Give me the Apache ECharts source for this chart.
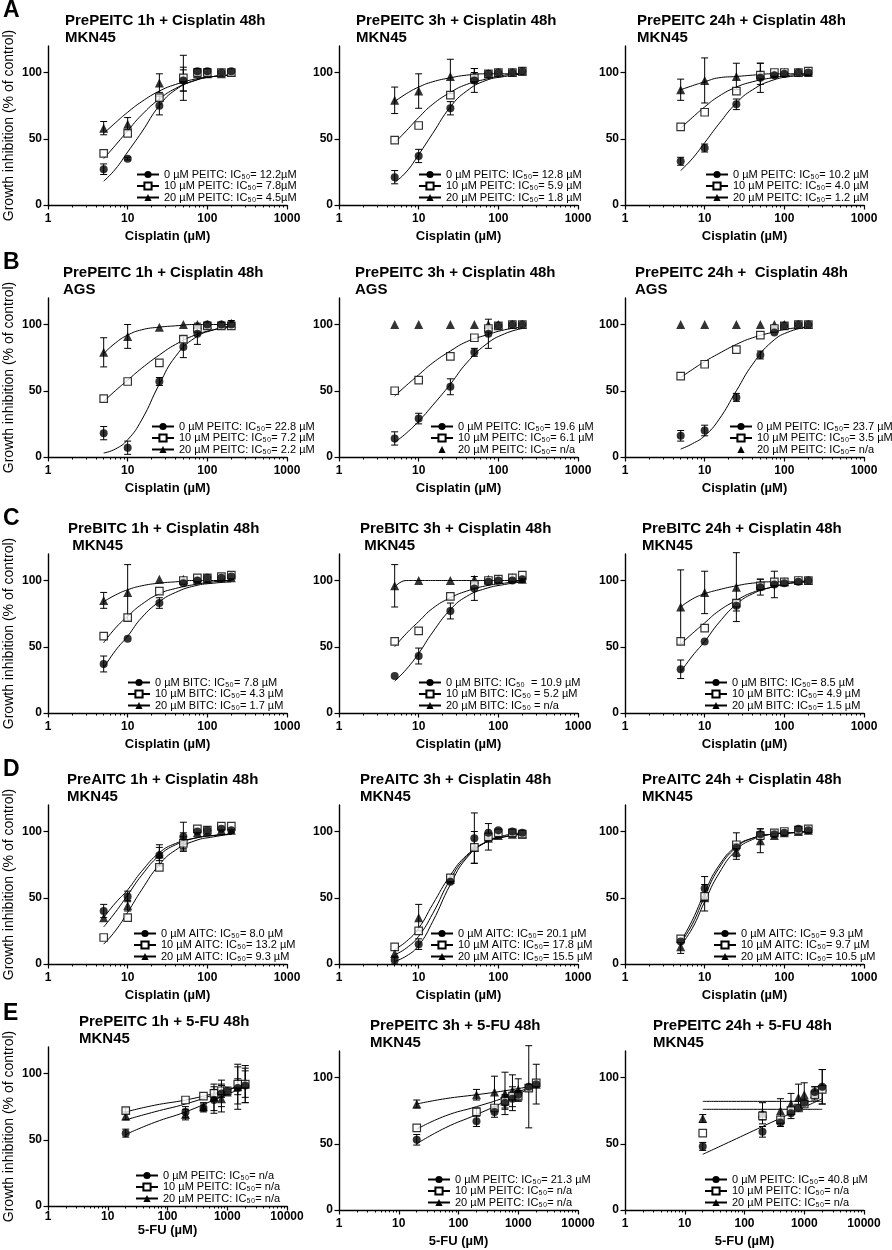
<!DOCTYPE html>
<html>
<head>
<meta charset="utf-8">
<title>Growth inhibition</title>
<script src="https://cdn.jsdelivr.net/npm/echarts@6.0.0/dist/echarts.min.js"></script>
<style>
  html, body { margin: 0; padding: 0; background: #fff; }
  #main { width: 892px; height: 1250px; }
</style>
</head>
<body>
<div id="main"></div>
<script>
// ---- doses (uM) ----
var cisDose = [5, 10, 25, 50, 75, 100, 150, 200];
var fuDose = [20, 200, 400, 600, 800, 1000, 1500, 2000];
var cisFitX = [5, 7, 10, 15, 25, 40, 70, 120, 200];
var fuFitX = [20, 60, 200, 600, 2000];
var yTicks = [0, 50, 100];

// each *_mean / *_sd / *_fit holds 3 rows: 0 uM, 10 uM, 20 uM pre-treatment
// A: PrePEITC + Cisplatin, MKN45
var A1_mean = [[27, 35, 75, 94, 101, 101, 100, 101], [39, 54, 81, 96, 100, 100, 100, 100], [58, 61, 92, 95, 99, 99, 99, 100]];
var A1_sd = [[4, 1, 7, 8, 2, 2, 0, 0], [0, 0, 2, 17, 0, 0, 0, 0], [5, 5, 7, 9, 0, 0, 0, 0]];
var A1_fit = [[18, 27, 40, 55, 75, 87, 94, 97, 98], [35, 45, 56, 68, 80, 88, 94, 97, 98], [54, 62, 70, 78, 86, 91, 95, 97, 98]];
var A2_mean = [[21, 37, 73, 94, 99, 100, 100, 101], [49, 60, 83, 96, 99, 100, 100, 101], [79, 86, 97, 98, 99, 100, 100, 101]];
var A2_sd = [[5, 5, 5, 9, 0, 0, 0, 0], [0, 0, 0, 4, 0, 0, 0, 0], [10, 13, 13, 5, 0, 0, 0, 0]];
var A2_fit = [[17, 25, 38, 54, 74, 86, 94, 97, 99], [47, 56, 66, 76, 85, 91, 95, 98, 99], [78, 84, 89, 93, 96, 98, 99, 99, 99]];
var A3_mean = [[33, 43, 76, 96, 98, 99, 100, 100], [59, 70, 86, 98, 100, 100, 100, 101], [87, 94, 97, 99, 99, 100, 100, 100]];
var A3_sd = [[3, 3, 4, 11, 0, 0, 0, 0], [0, 0, 0, 0, 0, 0, 0, 0], [8, 17, 10, 8, 0, 0, 0, 0]];
var A3_fit = [[26, 35, 47, 61, 77, 87, 94, 97, 98], [58, 66, 74, 82, 89, 93, 96, 98, 99], [87, 90, 93, 96, 97, 98, 99, 99, 99]];

// B: PrePEITC + Cisplatin, AGS
var B1_mean = [[18, 7, 57, 83, 93, 100, 100, 100], [44, 57, 71, 89, 97, 99, 99, 99], [79, 91, 98, 100, 100, 100, 100, 101]];
var B1_sd = [[5, 5, 3, 8, 8, 0, 0, 0], [0, 0, 0, 0, 0, 0, 0, 0], [11, 9, 0, 0, 0, 0, 0, 2]];
var B1_fit = [[3, 6, 13, 28, 55, 76, 90, 96, 99], [42, 50, 58, 67, 77, 85, 92, 96, 98], [78, 86, 92, 96, 98, 99, 100, 100, 100]];
var B2_mean = [[14, 29, 53, 79, 93, 99, 100, 100], [50, 58, 76, 90, 97, 99, 100, 100], [100, 100, 100, 100, 100, 100, 100, 100]];
var B2_sd = [[5, 4, 6, 3, 11, 0, 0, 0], [0, 0, 0, 0, 0, 0, 0, 0], [0, 0, 0, 0, 0, 0, 0, 0]];
var B2_fit = [[11, 18, 27, 39, 55, 71, 85, 93, 97], [46, 54, 62, 71, 80, 87, 92, 96, 98], null];
var B3_mean = [[16, 20, 45, 77, 94, 99, 100, 100], [61, 70, 81, 92, 97, 99, 100, 100], [100, 100, 100, 100, 100, 100, 100, 100]];
var B3_sd = [[4, 4, 3, 3, 0, 0, 0, 0], [0, 0, 0, 0, 0, 0, 0, 0], [0, 0, 0, 0, 0, 0, 0, 0]];
var B3_fit = [[6, 10, 16, 28, 50, 70, 87, 95, 98], [60, 66, 72, 78, 85, 90, 94, 97, 98], null];

// C: PreBITC + Cisplatin, MKN45
var C1_mean = [[37, 56, 83, 98, 100, 102, 102, 103], [58, 72, 92, 100, 102, 102, 103, 104], [85, 91, 101, 101, 101, 101, 102, 102]];
var C1_sd = [[6, 0, 4, 0, 0, 0, 0, 0], [0, 0, 0, 0, 0, 0, 0, 0], [6, 21, 0, 0, 0, 0, 0, 0]];
var C1_fit = [[34, 47, 58, 72, 84, 91, 96, 98, 99], [53, 64, 73, 82, 90, 94, 97, 99, 100], [84, 89, 93, 96, 98, 99, 100, 100, 100]];
var C2_mean = [[28, 43, 77, 94, 99, 100, 100, 101], [54, 62, 88, 97, 100, 101, 102, 104], [96, 100, 100, 101, 101, 101, 102, 101]];
var C2_sd = [[0, 6, 6, 9, 0, 0, 0, 0], [0, 0, 0, 0, 0, 0, 0, 0], [16, 0, 0, 0, 0, 0, 0, 0]];
var C2_fit = [[24, 33, 45, 61, 78, 88, 94, 97, 99], [50, 60, 69, 79, 87, 92, 96, 98, 100], [95, 100, 100, 100, 100, 100, 100, 100, 100]];
var C3_mean = [[33, 54, 81, 95, 97, 98, 99, 100], [54, 64, 83, 96, 99, 99, 100, 100], [80, 91, 95, 97, 99, 99, 100, 100]];
var C3_sd = [[7, 0, 4, 6, 10, 0, 0, 0], [0, 0, 0, 0, 0, 0, 0, 0], [28, 16, 26, 4, 0, 0, 0, 0]];
var C3_fit = [[31, 43, 54, 68, 82, 90, 95, 98, 99], [52, 60, 68, 77, 85, 91, 95, 98, 99], [80, 86, 90, 93, 96, 98, 99, 99, 100]];

// D: PreAITC + Cisplatin, MKN45
var D1_mean = [[40, 51, 82, 96, 100, 101, 102, 101], [20, 35, 73, 91, 102, 101, 104, 104], [35, 44, 83, 93, 99, 100, 101, 101]];
var D1_sd = [[5, 4, 8, 11, 0, 0, 0, 0], [0, 0, 0, 5, 0, 0, 0, 0], [0, 4, 5, 6, 0, 0, 0, 0]];
var D1_fit = [[35, 46, 56, 70, 84, 91, 95, 97, 98], [15, 25, 39, 56, 75, 86, 93, 96, 98], [28, 39, 52, 67, 82, 90, 95, 97, 98]];
var D2_mean = [[3, 15, 62, 95, 99, 101, 100, 99], [13, 25, 65, 88, 96, 99, 99, 98], [8, 35, 64, 88, 95, 97, 98, 98]];
var D2_sd = [[3, 4, 0, 19, 0, 0, 0, 0], [0, 0, 0, 12, 10, 0, 0, 0], [0, 10, 0, 0, 0, 0, 0, 0]];
var D2_fit = [[2, 6, 14, 32, 60, 80, 92, 97, 99], [7, 12, 21, 38, 64, 81, 92, 96, 98], [11, 17, 27, 45, 67, 82, 92, 96, 98]];
var D3_mean = [[17, 57, 88, 98, 98, 99, 102, 101], [19, 51, 90, 97, 99, 100, 101, 102], [13, 50, 85, 93, 97, 99, 100, 101]];
var D3_sd = [[0, 9, 0, 4, 0, 0, 0, 0], [0, 0, 9, 0, 0, 0, 0, 0], [5, 10, 6, 9, 0, 0, 0, 0]];
var D3_fit = [[17, 33, 54, 74, 89, 95, 98, 99, 100], [16, 30, 51, 72, 88, 95, 98, 99, 100], [14, 27, 47, 68, 86, 94, 98, 99, 100]];

// E: PrePEITC + 5-FU, MKN45
var E1_mean = [[55, 71, 74, 80, 85, 87, 89, 91], [72, 80, 83, 85, 87, 87, 92, 92], [68, 69, 75, 82, 81, 86, 90, 92]];
var E1_sd = [[3, 4, 3, 10, 10, 2, 16, 13], [2, 0, 0, 3, 5, 2, 15, 14], [3, 4, 3, 10, 10, 2, 6, 10]];
var E1_fit = [[54, 63, 71, 80, 90], [71, 76, 80, 85, 92], [65, 71, 77, 84, 92]];
var E2_mean = [[53, 67, 74, 81, 84, 87, 93, 95], [62, 74, 77, 82, 86, 86, 92, 96], [80, 87, 89, 88, 90, 91, 93, 95]];
var E2_sd = [[4, 4, 4, 5, 9, 3, 31, 15], [0, 3, 0, 5, 0, 4, 0, 0], [3, 4, 12, 16, 12, 8, 0, 0]];
var E2_fit = [[50, 62, 72, 82, 95], [61, 71, 78, 85, 95], [80, 84, 87, 90, 94]];
var E3_mean = [[48, 59, 66, 73, 77, 81, 89, 93], [58, 71, 68, 75, 77, 80, 87, 91], [69, 73, 75, 80, 85, 87, 88, 93]];
var E3_sd = [[3, 4, 3, 4, 2, 2, 4, 13], [0, 3, 0, 0, 0, 0, 0, 0], [3, 8, 9, 8, 10, 9, 5, 13]];
var E3_fit = [[42, 52, 63, 73, 84], [76, 76, 76, 76, 76], [82, 82, 82, 82, 82]];

// ---- texts ----
var panelLetters = ['A', 'B', 'C', 'D', 'E'];
var titles = [
  'PrePEITC 1h + Cisplatin 48h\nMKN45', 'PrePEITC 3h + Cisplatin 48h\nMKN45', 'PrePEITC 24h + Cisplatin 48h\nMKN45',
  'PrePEITC 1h + Cisplatin 48h\nAGS', 'PrePEITC 3h + Cisplatin 48h\nAGS', 'PrePEITC 24h +  Cisplatin 48h\nAGS',
  'PreBITC 1h + Cisplatin 48h\n MKN45', 'PreBITC 3h + Cisplatin 48h\n MKN45', 'PreBITC 24h + Cisplatin 48h\nMKN45',
  'PreAITC 1h + Cisplatin 48h\nMKN45', 'PreAITC 3h + Cisplatin 48h\nMKN45', 'PreAITC 24h + Cisplatin 48h\nMKN45',
  'PrePEITC 1h + 5-FU 48h\nMKN45', 'PrePEITC 3h + 5-FU 48h\nMKN45', 'PrePEITC 24h + 5-FU 48h\nMKN45'
];
var legends = [
  ['0 µM PEITC: IC₅₀= 12.2µM', '10 µM PEITC: IC₅₀= 7.8µM', '20 µM PEITC: IC₅₀= 4.5µM'],
  ['0 µM PEITC: IC₅₀= 12.8 µM', '10 µM PEITC: IC₅₀= 5.9 µM', '20 µM PEITC: IC₅₀= 1.8 µM'],
  ['0 µM PEITC: IC₅₀= 10.2 µM', '10 µM PEITC: IC₅₀= 4.0 µM', '20 µM PEITC: IC₅₀= 1.2 µM'],
  ['0 µM PEITC: IC₅₀= 22.8 µM', '10 µM PEITC: IC₅₀= 7.2 µM', '20 µM PEITC: IC₅₀= 2.2 µM'],
  ['0 µM PEITC: IC₅₀= 19.6 µM', '10 µM PEITC: IC₅₀= 6.1 µM', '20 µM PEITC: IC₅₀= n/a'],
  ['0 µM PEITC: IC₅₀= 23.7 µM', '10 µM PEITC: IC₅₀= 3.5 µM', '20 µM PEITC: IC₅₀= n/a'],
  ['0 µM BITC: IC₅₀= 7.8 µM', '10 µM BITC: IC₅₀= 4.3 µM', '20 µM BITC: IC₅₀= 1.7 µM'],
  ['0 µM BITC: IC₅₀  = 10.9 µM', '10 µM BITC: IC₅₀ = 5.2 µM', '20 µM BITC: IC₅₀ = n/a'],
  ['0 µM BITC: IC₅₀= 8.5 µM', '10 µM BITC: IC₅₀= 4.9 µM', '20 µM BITC: IC₅₀= 1.5 µM'],
  ['0 µM AITC: IC₅₀= 8.0 µM', '10 µM AITC: IC₅₀= 13.2 µM', '20 µM AITC: IC₅₀= 9.3 µM'],
  ['0 µM AITC: IC₅₀= 20.1 µM', '10 µM AITC: IC₅₀= 17.8 µM', '20 µM AITC: IC₅₀= 15.5 µM'],
  ['0 µM AITC: IC₅₀= 9.3 µM', '10 µM AITC: IC₅₀= 9.7 µM', '20 µM AITC: IC₅₀= 10.5 µM'],
  ['0 µM PEITC: IC₅₀= n/a', '10 µM PEITC: IC₅₀= n/a', '20 µM PEITC: IC₅₀= n/a'],
  ['0 µM PEITC: IC₅₀= 21.3 µM', '10 µM PEITC: IC₅₀= n/a', '20 µM PEITC: IC₅₀= n/a'],
  ['0 µM PEITC: IC₅₀= 40.8 µM', '10 µM PEITC: IC₅₀= n/a', '20 µM PEITC: IC₅₀= n/a']
];

var panels = [
  {id: 'A1', mean: A1_mean, sd: A1_sd, fit: A1_fit}, {id: 'A2', mean: A2_mean, sd: A2_sd, fit: A2_fit}, {id: 'A3', mean: A3_mean, sd: A3_sd, fit: A3_fit},
  {id: 'B1', mean: B1_mean, sd: B1_sd, fit: B1_fit}, {id: 'B2', mean: B2_mean, sd: B2_sd, fit: B2_fit}, {id: 'B3', mean: B3_mean, sd: B3_sd, fit: B3_fit},
  {id: 'C1', mean: C1_mean, sd: C1_sd, fit: C1_fit}, {id: 'C2', mean: C2_mean, sd: C2_sd, fit: C2_fit}, {id: 'C3', mean: C3_mean, sd: C3_sd, fit: C3_fit},
  {id: 'D1', mean: D1_mean, sd: D1_sd, fit: D1_fit}, {id: 'D2', mean: D2_mean, sd: D2_sd, fit: D2_fit}, {id: 'D3', mean: D3_mean, sd: D3_sd, fit: D3_fit},
  {id: 'E1', mean: E1_mean, sd: E1_sd, fit: E1_fit}, {id: 'E2', mean: E2_mean, sd: E2_sd, fit: E2_fit}, {id: 'E3', mean: E3_mean, sd: E3_sd, fit: E3_fit}
];

// ---- layout (pixels) ----
var colLeft = [48, 339, 625];
var rowTop = [46, 298, 554, 805, 1049];
var topAdj = [0, 0, 0, 0, 0, 0, 0, 0, 0, 0, 0, 0, -2, 2, 2];
var titleDx = [17, 17, 12, 15, 16, 10, 20, 21, 17, 19, 21, 17, 31, 31, 28];
var legendDx = [88, 79, 80, 103, 91, 104, 79, 79, 79, 85, 91, 88, 87, 88, 79];
var plotW = 239, plotH = 159;

var FONT = 'Liberation Sans, Arial, sans-serif';
var symbols = ['circle', 'rect', 'triangle'];
var symbolSizes = [8, 7.5, 9];

function pointStyle(k) {
  if (k === 1) return {color: '#fff', borderColor: '#000', borderWidth: 1.2};
  return {color: '#000'};
}

function decades(maxX) {
  var out = [];
  for (var v = 1; v <= maxX; v *= 10) out.push(v);
  return out;
}
function minorTicks(maxX) {
  var out = [];
  for (var d = 1; d < maxX; d *= 10) {
    for (var m = 2; m <= 9; m++) out.push(d * m);
  }
  return out;
}

// error bar: vertical line with two caps
function renderErr(params, api) {
  var x = api.value(0), y = api.value(1), e = api.value(2);
  if (!e) return null;
  var hi = api.coord([x, y + e]);
  var lo = api.coord([x, y - e]);
  var st = {stroke: '#000', lineWidth: 1};
  var cap = 3.5;
  return {
    type: 'group',
    children: [
      {type: 'line', shape: {x1: hi[0], y1: hi[1], x2: lo[0], y2: lo[1]}, style: st},
      {type: 'line', shape: {x1: hi[0] - cap, y1: hi[1], x2: hi[0] + cap, y2: hi[1]}, style: st},
      {type: 'line', shape: {x1: lo[0] - cap, y1: lo[1], x2: lo[0] + cap, y2: lo[1]}, style: st}
    ]
  };
}

var grid = [], xAxis = [], yAxis = [], series = [], title = [], legend = [];

panelLetters.forEach(function (l, r) {
  title.push({text: l, left: 3, top: rowTop[r] - 47, padding: 0,
    textStyle: {fontFamily: FONT, fontSize: 23, fontWeight: 'bold', color: '#000'}});
});

panels.forEach(function (p, i) {
  var r = Math.floor(i / 3), c = i % 3;
  var isFU = r === 4;
  var dose = isFU ? fuDose : cisDose;
  var fitX = isFU ? fuFitX : cisFitX;
  var maxX = isFU ? 10000 : 1000;
  var top = rowTop[r] + topAdj[i];
  var left = colLeft[c];
  var bottomY = top + plotH;

  grid.push({left: left, top: top, width: plotW, height: plotH});

  title.push({
    text: titles[i], left: left + titleDx[i], top: top - 34, padding: 0,
    textStyle: {fontFamily: FONT, fontSize: 15, fontWeight: 'bold', color: '#000', lineHeight: 17}
  });

  // main x axis (decade ticks + labels)
  xAxis.push({
    type: 'log', logBase: 10, gridIndex: i, position: 'bottom', min: 1, max: maxX,
    name: isFU ? '5-FU (µM)' : 'Cisplatin (µM)',
    nameLocation: 'middle', nameGap: (i === 12 ? 16 : 25),
    nameTextStyle: {fontFamily: FONT, fontSize: 13, fontWeight: 'bold', color: '#000', verticalAlign: 'top'},
    axisLine: {onZero: false, lineStyle: {color: '#000', width: 1.4}},
    axisTick: {customValues: decades(maxX), length: 4.5, lineStyle: {color: '#000', width: 1.2}},
    axisLabel: {customValues: decades(maxX), margin: (i === 12 ? 5 : 8), fontFamily: FONT, fontSize: 12, fontWeight: 'bold', color: '#000',
      formatter: function (v) { return String(Math.round(v)); }},
    splitLine: {show: false}
  });
  // minor ticks 2..9 per decade
  xAxis.push({
    type: 'log', logBase: 10, gridIndex: i, position: 'bottom', min: 1, max: maxX,
    axisLine: {show: false, onZero: false},
    axisTick: {customValues: minorTicks(maxX), length: 2.5, lineStyle: {color: '#000', width: 1}},
    axisLabel: {show: false},
    splitLine: {show: false}
  });

  yAxis.push({
    type: 'value', gridIndex: i, min: 0, max: 120,
    name: c === 0 ? 'Growth inhibition (% of control)' : '',
    nameLocation: 'middle', nameGap: 32,
    nameTextStyle: {fontFamily: FONT, fontSize: 14, color: '#000'},
    axisLine: {show: true, lineStyle: {color: '#000', width: 1.4}},
    axisTick: {show: true, customValues: yTicks, length: 4.5, lineStyle: {color: '#000', width: 1.2}},
    axisLabel: {customValues: yTicks, margin: 6, fontFamily: FONT, fontSize: 12, fontWeight: 'bold', color: '#000'},
    splitLine: {show: false}
  });

  var legendNames = [];
  for (var k = 2; k >= 0; k--) {
    var name = p.id + '#' + legends[i][k];
    var xi = i * 2;
    // fitted curve (also gives the legend its line + marker icon)
    if (p.fit[k]) {
      series.push({
        type: 'line', name: name, xAxisIndex: xi, yAxisIndex: i,
        data: fitX.map(function (x, j) { return [x, p.fit[k][j]]; }),
        smooth: 0.5, showSymbol: false,
        symbol: symbols[k], symbolSize: symbolSizes[k], itemStyle: pointStyle(k),
        lineStyle: {color: '#000', width: 1}, z: 2, silent: true
      });
    } else {
      // no fit: legend shows the marker alone
      series.push({
        type: 'line', name: name, xAxisIndex: xi, yAxisIndex: i, data: [],
        symbol: symbols[k], itemStyle: pointStyle(k),
        lineStyle: {color: 'rgba(0,0,0,0)', width: 0}, z: 2, silent: true
      });
    }
    series.push({
      type: 'custom', name: p.id + '#err' + k, xAxisIndex: xi, yAxisIndex: i,
      renderItem: renderErr, encode: {x: 0, y: 1},
      data: dose.map(function (d, j) { return [d, p.mean[k][j], p.sd[k][j]]; }),
      z: 3, silent: true
    });
    series.push({
      type: 'scatter', name: p.id + '#pts' + k, xAxisIndex: xi, yAxisIndex: i,
      symbol: symbols[k], symbolSize: symbolSizes[k], itemStyle: pointStyle(k),
      data: dose.map(function (d, j) { return [d, p.mean[k][j]]; }),
      z: 4, silent: true
    });
  }
  for (var k2 = 0; k2 < 3; k2++) legendNames.push(p.id + '#' + legends[i][k2]);

  legend.push({
    orient: 'vertical', left: left + legendDx[i], top: bottomY - 36, padding: 0,
    itemGap: 0.5, itemWidth: 22, itemHeight: 9, selectedMode: false,
    data: legendNames,
    formatter: function (n) { return n.split('#')[1]; },
    textStyle: {fontFamily: FONT, fontSize: 11, lineHeight: 10, color: '#000'}
  });
});

var myChart = echarts.init(document.getElementById('main'), null, {renderer: 'canvas'});
var option = {
  backgroundColor: '#fff',
  animation: false,
  textStyle: {fontFamily: FONT},
  title: title,
  legend: legend,
  grid: grid,
  xAxis: xAxis,
  yAxis: yAxis,
  series: series
};
myChart.setOption(option);
</script>
</body>
</html>
